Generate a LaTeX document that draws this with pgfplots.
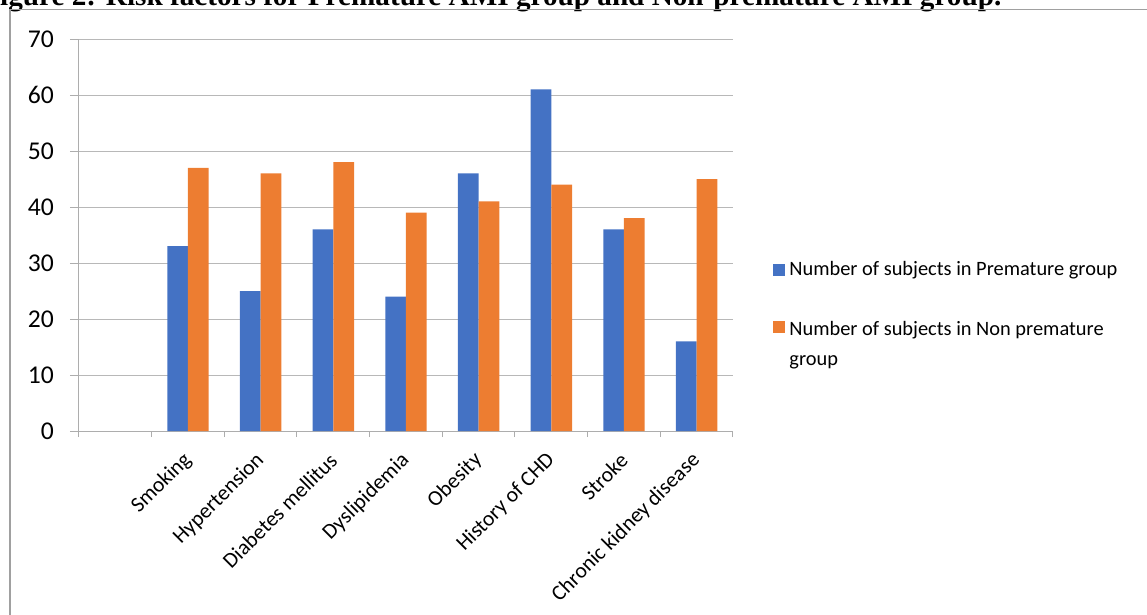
\documentclass[border=0pt]{standalone}
\usepackage{pgfplots}
\pgfplotsset{compat=1.18}
\usepackage{fontspec}
\setmainfont{Carlito}
\newfontfamily\titlefont{Liberation Serif}
\definecolor{xblue}{HTML}{4472C4}
\definecolor{xorange}{HTML}{ED7D31}
\definecolor{gridgray}{HTML}{B8B8B8}
\definecolor{axisgray}{HTML}{ADADAD}
\definecolor{framegray}{HTML}{A0A0A0}
\begin{document}
\begin{tikzpicture}
\useasboundingbox (0,0) rectangle (573.5pt,-307.5pt);
\clip (0,0) rectangle (573.5pt,-307.5pt);
\node[anchor=base west, inner sep=0pt, font=\titlefont\bfseries\fontsize{14.6}{17}\selectfont] at (-9pt,-3pt) {Figure 2: Risk factors for Premature AMI group and Non-premature AMI group.};
\draw[framegray, line width=0.6pt] (5pt,-320pt) -- (5pt,-4.75pt) -- (600pt,-4.75pt);
\begin{axis}[
  at={(39.5pt,-215.5pt)}, anchor=south west,
  scale only axis, width=327pt, height=196pt,
  ybar=0pt, bar width=10.35pt,
  xmin=-0.5, xmax=8.5, ymin=0, ymax=70,
  ytick={0,10,...,70},
  xtick={1,...,8},
  xticklabels={Smoking,Hypertension,Diabetes mellitus,Dyslipidemia,Obesity,History of CHD,Stroke,Chronic kidney disease},
  minor xtick={-0.5,0.5,...,8.5},
  major x tick style={draw=none},
  x tick label style={xshift=2.5pt, yshift=-6pt, rotate=45, anchor=east, font=\fontsize{10.8}{13}\selectfont},
  y tick label style={xshift=-4.5pt, font=\fontsize{12.8}{15}\selectfont},
  /pgf/number format/assume math mode=true,
  tick align=outside, major tick length=4.5pt, minor tick length=3pt,
  tick style={axisgray, line width=0.5pt},
  axis x line*=bottom, axis y line*=left,
  axis line style={axisgray, line width=0.5pt},
  ymajorgrids, grid style={gridgray, line width=0.5pt},
  legend style={draw=none, fill=none, at={(axis description cs:1.052,0.454)}, anchor=north west,
    font=\fontsize{10.2}{15}\selectfont, row sep=14pt},
  legend cell align=left,
  legend image code/.code={\fill[#1] (0pt,-3pt) rectangle (6pt,3pt);},
]
\addplot[fill=xblue, draw=none] coordinates {(1,33) (2,25) (3,36) (4,24) (5,46) (6,61) (7,36) (8,16)};
\addplot[fill=xorange, draw=none] coordinates {(1,47) (2,46) (3,48) (4,39) (5,41) (6,44) (7,38) (8,45)};
\addlegendentry{Number of subjects in Premature group}
\addlegendentry{\begin{tabular}[t]{@{}l@{}}Number of subjects in Non premature\\group\end{tabular}}
\end{axis}
\end{tikzpicture}
\end{document}
